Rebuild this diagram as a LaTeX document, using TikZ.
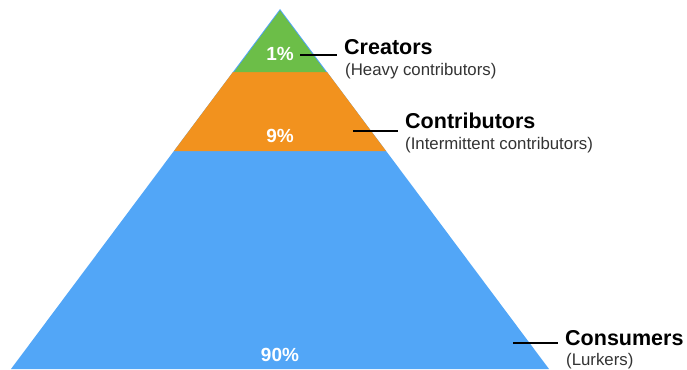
\documentclass[tikz,border=0pt]{standalone}
\usepackage{fontspec}
\setmainfont{Liberation Sans}
\usetikzlibrary{calc}

\definecolor{creatorgreen}{RGB}{108,190,72}
\definecolor{contriborange}{RGB}{242,146,30}
\definecolor{lurkerblue}{RGB}{82,166,247}

\tikzset{
  percent/.style={anchor=base, inner sep=0pt, text=white,
    font=\fontsize{19}{22}\selectfont\bfseries},
  tiertitle/.style={anchor=base west, inner sep=0pt,
    font=\fontsize{21.5}{24}\selectfont\bfseries},
  tiersub/.style={anchor=base west, inner sep=0pt, text=black!80,
    font=\fontsize{16.8}{19}\selectfont},
  tick/.style={line width=1.2pt, shorten >=7pt}
}

\begin{document}
\begin{tikzpicture}[x=1pt, y=-1pt]
  \useasboundingbox (0,0) rectangle (687,369);

  % Corners of the pyramid and of its bands
  \coordinate (apex) at (280,9);
  \coordinate (gl) at (233,72);
  \coordinate (gr) at (327,72);
  \coordinate (ol) at (174,151);
  \coordinate (or) at (386,151);
  \coordinate (bl) at (11,369);
  \coordinate (br) at (549,369);

  % Draw the three bands
  \fill[lurkerblue] (apex) -- (bl) -- (br) -- cycle;
  \fill[contriborange] (gl) -- (ol) -- (or) -- (gr) -- cycle;
  \fill[creatorgreen] ($(apex)+(0,1.5)$) -- ($(gl)+(1.2,0)$) -- ($(gr)+(-1.2,0)$) -- cycle;

  % Percentages
  \node[percent] (p1) at (280,60) {1\%};
  \node[percent] (p9) at (280,142) {9\%};
  \node[percent] (p90) at (280,361) {90\%};

  % Labels on the right
  \node[tiertitle] (creators) at (344,54) {Creators};
  \node[tiersub] (creatorsub) at (345,75) {(Heavy contributors)};
  \node[tiertitle] (contributors) at (405,128) {Contributors};
  \node[tiersub] (contributorsub) at (405,149) {(Intermittent contributors)};
  \node[tiertitle] (consumers) at (565,345) {Consumers};
  \node[tiersub] (consumersub) at (566,365) {(Lurkers)};

  % Short lines to the labels
  \coordinate (creatorstick) at (300,55);
  \coordinate (contributorstick) at (353,131);
  \coordinate (consumerstick) at (513,343);
  \draw[tick] (creatorstick) -- (creatorstick -| creators.west);
  \draw[tick] (contributorstick) -- (contributorstick -| contributors.west);
  \draw[tick] (consumerstick) -- (consumerstick -| consumers.west);
\end{tikzpicture}
\end{document}
